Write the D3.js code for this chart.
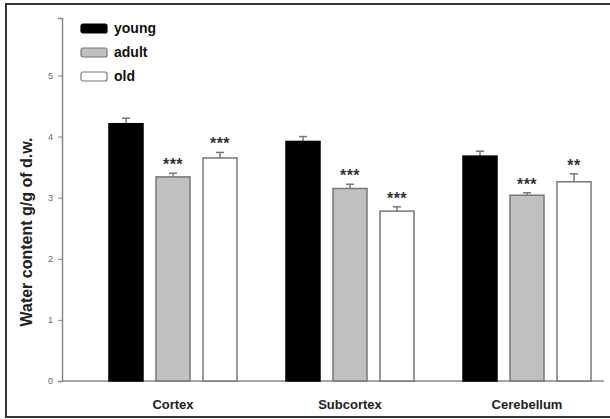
<!DOCTYPE html>
<html>
<head>
<meta charset="utf-8">
<script src="https://cdn.jsdelivr.net/npm/d3@7"></script>
<style>
  body { margin: 0; background: #fff; }
  svg { display: block; font-family: "Liberation Sans", Arial, sans-serif; }
</style>
</head>
<body>
<div id="wrapper"></div>
<script>
// data
const regions = ["Cortex", "Subcortex", "Cerebellum"]
const groups = ["young", "adult", "old"]
const young = [4.21, 3.92, 3.68]
const adult = [3.34, 3.15, 3.04]
const old = [3.65, 2.78, 3.26]
const youngErr = [0.09, 0.08, 0.08]
const adultErr = [0.06, 0.07, 0.04]
const oldErr = [0.09, 0.07, 0.13]
const adultStars = ["***", "***", "***"]
const oldStars = ["***", "***", "**"]
const yTicks = [0, 1, 2, 3, 4, 5]

const fills = {young: "#000", adult: "#c0c0c0", old: "#fff"}
const vals = {young: young, adult: adult, old: old}
const errs = {young: youngErr, adult: adultErr, old: oldErr}
const stars = {young: ["", "", ""], adult: adultStars, old: oldStars}

const rows = []
regions.forEach((r, i) => {
  groups.forEach(g => rows.push({region: r, group: g, v: vals[g][i], e: errs[g][i], s: stars[g][i]}))
})

const W = 610, H = 419
const svg = d3.select("#wrapper").append("svg").attr("width", W).attr("height", H)

// frame
svg.append("rect").attr("x", 6).attr("y", 4).attr("width", 610).attr("height", 413)
  .attr("fill", "none").attr("stroke", "#333").attr("stroke-width", 2)

const yScale = d3.scaleLinear().domain([0, 5.94]).range([381, 18])
const x0 = d3.scaleBand().domain(regions).range([84.5, 615.5])
const x1 = d3.scaleBand().domain(groups).range([-70.5, 70.5])
  .paddingInner(0.2766).paddingOuter(0.1383)

// y axis
const yAxis = svg.append("g").attr("transform", "translate(62,0)")
  .call(d3.axisLeft(yScale).tickValues(yTicks).tickSize(4).tickFormat(d3.format("d")))
yAxis.select(".domain").attr("stroke", "#888").attr("stroke-width", 1.5)
yAxis.selectAll(".tick line").attr("stroke", "#888")
yAxis.selectAll(".tick text").attr("fill", "#666").style("font-size", "9px").attr("x", -9)

// x axis line
svg.append("line").attr("x1", 62).attr("x2", 604).attr("y1", yScale(0)).attr("y2", yScale(0))
  .attr("stroke", "#888").attr("stroke-width", 1.5)

const bx = d => x0(d.region) + x0.bandwidth() / 2 + x1(d.group)
const bw = x1.bandwidth()

// error bars
const eb = svg.append("g").attr("stroke", "#777").attr("stroke-width", 1.5)
eb.selectAll("line.v").data(rows).join("line").attr("class", "v")
  .attr("x1", d => bx(d) + bw / 2).attr("x2", d => bx(d) + bw / 2)
  .attr("y1", d => yScale(d.v)).attr("y2", d => yScale(d.v + d.e))
eb.selectAll("line.c").data(rows).join("line").attr("class", "c")
  .attr("x1", d => bx(d) + bw / 2 - 4).attr("x2", d => bx(d) + bw / 2 + 4)
  .attr("y1", d => yScale(d.v + d.e)).attr("y2", d => yScale(d.v + d.e))

// bars
svg.append("g").selectAll("rect").data(rows).join("rect")
  .attr("x", d => bx(d)).attr("width", bw)
  .attr("y", d => yScale(d.v)).attr("height", d => yScale(0) - yScale(d.v))
  .attr("fill", d => fills[d.group])
  .attr("stroke", d => d.group == "young" ? "#000" : "#777")
  .attr("stroke-width", 1.5)

// significance stars
svg.append("g").selectAll("text").data(rows.filter(d => d.s)).join("text")
  .attr("x", d => bx(d) + bw / 2).attr("y", d => yScale(d.v + d.e) - 3)
  .attr("text-anchor", "middle").attr("fill", "#333")
  .style("font-size", "16px").style("font-weight", "bold").style("letter-spacing", "0.5px")
  .text(d => d.s)

// category labels
svg.append("g").selectAll("text").data(regions).join("text")
  .attr("x", d => x0(d) + x0.bandwidth() / 2).attr("y", 409)
  .attr("text-anchor", "middle").attr("fill", "#222")
  .style("font-size", "13px").style("font-weight", "bold")
  .text(d => d)

// y label
svg.append("text").attr("transform", "translate(32,232) rotate(-90)")
  .attr("text-anchor", "middle").attr("fill", "#222")
  .style("font-size", "16px").style("font-weight", "bold")
  .text("Water content g/g of d.w.")

// legend
const leg = svg.append("g").selectAll("g").data(groups).join("g")
  .attr("transform", (d, i) => `translate(81,${24 + i * 24})`)
leg.append("rect").attr("width", 26).attr("height", 9).attr("rx", 2)
  .attr("fill", d => fills[d]).attr("stroke", d => d == "young" ? "#000" : "#777").attr("stroke-width", 1.2)
leg.append("text").attr("x", 33).attr("y", 9).attr("fill", "#111")
  .style("font-size", "14px").style("font-weight", "bold")
  .text(d => d)
</script>
</body>
</html>
